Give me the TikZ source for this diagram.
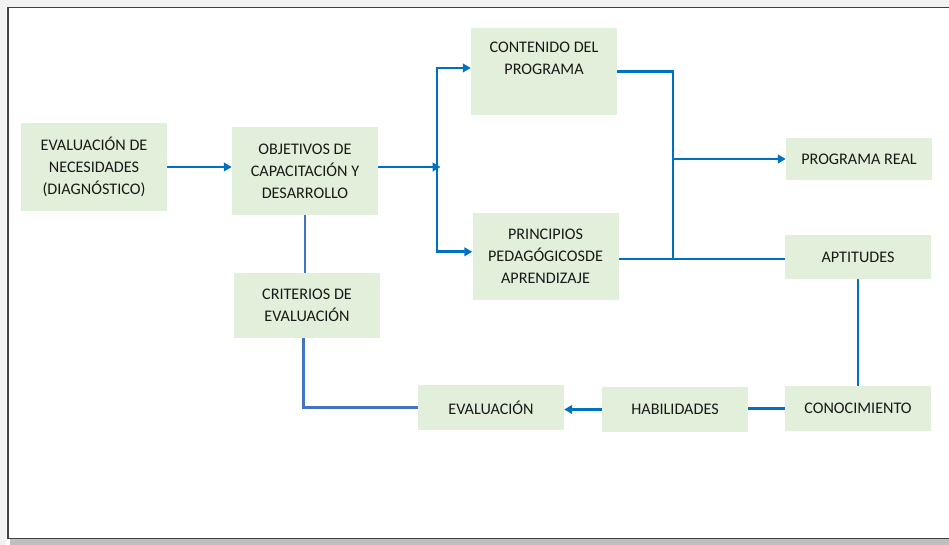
\documentclass[tikz,border=0pt]{standalone}
\usepackage{fontspec}
\setmainfont{Carlito}
\usetikzlibrary{arrows.meta}
\definecolor{boxgreen}{HTML}{E2EFDA}
\definecolor{lineblue}{HTML}{0070C0}
\definecolor{critblue}{HTML}{4472C4}
\begin{document}
\begin{tikzpicture}[x=0.03cm, y=-0.03cm, line join=miter, >={Triangle[length=2.4mm,width=2.6mm]},
		box/.style={fill=boxgreen, minimum width=4.38cm, inner sep=2pt, align=center,
			font=\fontsize{13.8}{18.8}\selectfont, text=black!90},
		link/.style={draw=lineblue, line width=2.4pt},
		critlink/.style={draw=critblue, line width=2.4pt}]
	\useasboundingbox (0,0) rectangle (949,545);
	\clip (0,0) rectangle (949,545);
	% frame of the page
	\fill[black!5] (0,0) rectangle (949,7);
	\fill[black!5] (0,0) rectangle (6,545);
	\fill[black!25] (10,539) rectangle (949,545);
	\draw[black!75, line width=0.9pt] (8,7.5) rectangle (960,538.5);
	% boxes
	\node[box, minimum height=2.64cm] (necesidades) at (94,167) {EVALUACIÓN DE\\NECESIDADES\\(DIAGNÓSTICO)};
	\node[box, minimum height=2.64cm] (objetivos) at (305,171) {OBJETIVOS DE\\CAPACITACIÓN Y\\DESARROLLO};
	\node[box, minimum height=2.61cm, label={[anchor=north, yshift=-9pt, align=center,
			font=\fontsize{13.8}{18.8}\selectfont, text=black!90]north:{CONTENIDO DEL\\PROGRAMA}}] (contenido) at (544,71.5) {};
	\node[box, minimum height=2.61cm] (principios) at (545.5,256.5) {PRINCIPIOS\\PEDAGÓGICOSDE\\APRENDIZAJE};
	\node[box, minimum height=1.26cm] (real) at (859,159) {PROGRAMA REAL};
	\node[box, minimum height=1.32cm] (aptitudes) at (858,257) {APTITUDES};
	\node[box, minimum height=1.35cm] (conocimiento) at (858,408.5) {CONOCIMIENTO};
	\node[box, minimum height=1.35cm] (habilidades) at (675,409.5) {HABILIDADES};
	\node[box, minimum height=1.35cm] (evaluacion) at (491,407.5) {EVALUACIÓN};
	\node[box, minimum height=1.95cm] (criterios) at (307,305.5) {CRITERIOS DE\\EVALUACIÓN};
	% connectors
	\coordinate (split) at (437,167);
	\coordinate (join) at (673,259);
	\draw[link,->] (necesidades.east |- split) -- (necesidades.east -| objetivos.west);
	\draw[link,->] (objetivos.east |- split) -- ([xshift=3pt]split);
	\draw[link,->] (split) |- ([yshift=3pt]contenido.west);
	\draw[link,->] (split) |- ([yshift=4pt]principios.west);
	\draw[link] (contenido.east) -| (join);
	\draw[link] (principios.east |- join) -- (aptitudes.west |- join);
	\draw[link,->] (join |- real.west) -- (real.west);
	\draw[link] (aptitudes.south) -- (conocimiento.north);
	\draw[link] (conocimiento.west) -- (conocimiento.west -| habilidades.east);
	\draw[link,->] (habilidades.west) -- (habilidades.west -| evaluacion.east);
	\draw[critlink] (objetivos.south) -- (objetivos.south |- criterios.north);
	\draw[critlink] ([xshift=-3pt]criterios.south) |- (evaluacion.west);
\end{tikzpicture}
\end{document}
